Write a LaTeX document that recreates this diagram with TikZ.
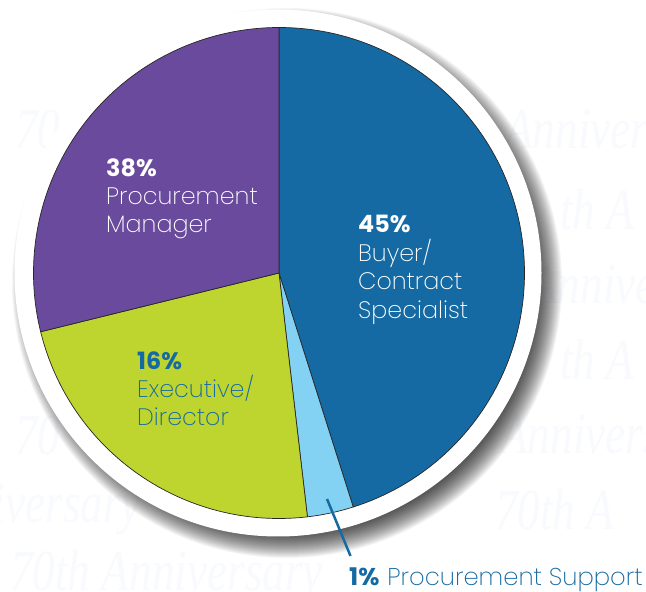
\documentclass[tikz,border=0pt]{standalone}
\usepackage{fontspec}
\setmainfont{Poppins}
\newfontfamily\lightf{Poppins ExtraLight}
\newfontfamily\wmf{Liberation Serif}
\definecolor{pblue}{HTML}{156AA3}
\definecolor{ppurple}{HTML}{6A4A9C}
\definecolor{pgreen}{HTML}{BED42F}
\definecolor{plight}{HTML}{84D2F3}
\definecolor{wm}{HTML}{F8FAFD}
\tikzset{
  sector/.style={draw=black!85,line width=0.7pt,line join=round},
  lab/.style={anchor=north west,align=left,inner sep=0pt,font=\lightf\fontsize{23.8}{28}\selectfont},
  wmark/.style={text=wm,font=\wmf\itshape\fontsize{58}{58}\selectfont,inner sep=0pt,anchor=west,xscale=0.78}
}
\begin{document}
\begin{tikzpicture}[x=1pt,y=1pt]
\useasboundingbox (0,0) rectangle (646,592);
\fill[white] (0,0) rectangle (646,592);
% watermark
\begin{scope}
\clip (0,0) rectangle (646,592);
\node[wmark] (w1) at (15,462) {70};
\node[wmark] (w2) at (505,462) {Anniversa};
\node[wmark] (w3) at (560,382) {th A};
\node[wmark] (w4) at (530,307) {Anniversa};
\node[wmark] (w5) at (560,232) {th A};
\node[wmark] (w6) at (15,157) {70};
\node[wmark] (w7) at (500,157) {Anniversa};
\node[wmark] (w8) at (-30,82) {niversary};
\node[wmark] (w9) at (495,82) {70th A};
\node[wmark] (w10) at (10,15) {70th Anniversary};
\end{scope}
% shadow
\foreach \r in {250,251,...,275}
  \fill[black,opacity=0.04] (287,309) circle[radius=\r];
% white disc
\fill[white] (278,319) circle[radius=263.5];
% pie
\coordinate (c) at (279,319);
\def\R{245.5}
\draw[sector,fill=pblue]   (c) -- ++(90:\R) arc[start angle=90,end angle=-72.4,radius=\R] -- cycle;
\draw[sector,fill=plight]  (c) -- ++(-72.4:\R) arc[start angle=-72.4,end angle=-83.35,radius=\R] -- cycle;
\draw[sector,fill=pgreen]  (c) -- ++(-83.35:\R) arc[start angle=-83.35,end angle=-166.15,radius=\R] -- cycle;
\draw[sector,fill=ppurple] (c) -- ++(-166.15:\R) arc[start angle=-166.15,end angle=-270,radius=\R] -- cycle;
% leader
\coordinate (la) at (327,93);
\coordinate (lb) at (350.5,36);
\draw[pblue,line width=2.5pt] (la) -- (lb);
% labels
\node[lab,text=white,font=\lightf\fontsize{23.8}{28.7}\selectfont] (buyer) at (358,377) {{\bfseries\rmfamily 45\%}\\Buyer/\\Contract\\Specialist};
\node[lab,text=white] (mgr) at (106,433) {{\bfseries\rmfamily 38\%}\\Procurement\\Manager};
\node[lab,text=pblue] (exec) at (137,240) {{\bfseries\rmfamily 16\%}\\Executive/\\Director};
\node[lab,text=pblue,anchor=west,font=\lightf\fontsize{24.3}{28}\selectfont] (sup) at (349,12) {{\bfseries\rmfamily 1\%}\hspace{1pt} Procurement Support};
\end{tikzpicture}
\end{document}
